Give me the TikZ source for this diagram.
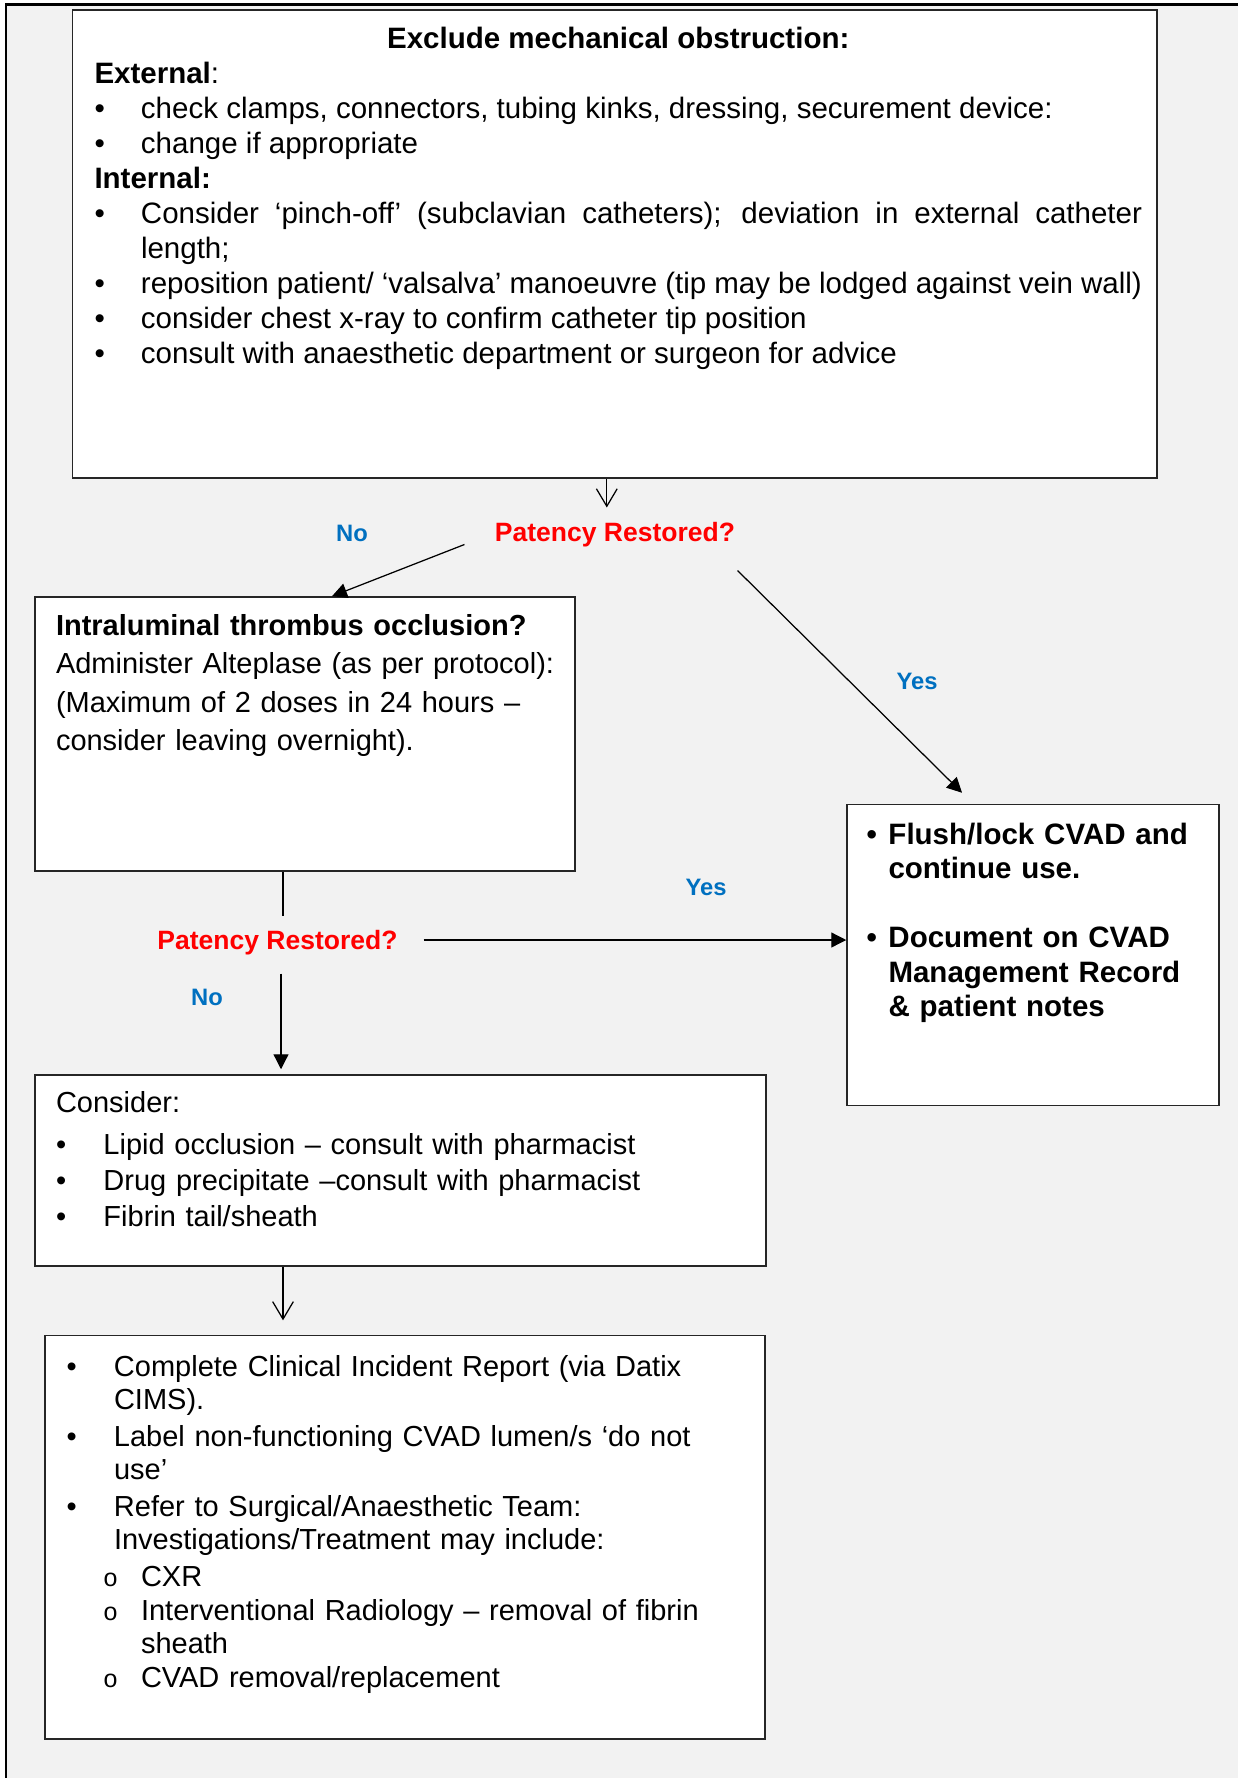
\documentclass[tikz,border=0pt]{standalone}
\usepackage{fontspec}
\setmainfont{Liberation Sans}
\usepackage{xcolor}
\usetikzlibrary{arrows.meta,calc}
\definecolor{fondo}{HTML}{F2F2F2}
\definecolor{rojo}{HTML}{FF0000}
\definecolor{azul}{HTML}{0070C0}
\newcommand{\bitem}[2]{\hangindent=#1\hangafter=1\noindent\makebox[#1][l]{\textbullet}#2\par}
\newcommand{\obitem}[2]{\hangindent=#1\hangafter=1\noindent\makebox[#1][l]{\hspace{14.8pt}{\fontsize{10pt}{10pt}\selectfont o}}#2\par}
\tikzset{
  box/.style={draw=black!85,line width=0.6pt,fill=white,inner sep=0pt},
  txt/.style={anchor=base west,inner sep=0pt,align=left,font=\fontsize{11.8pt}{14pt}\selectfont},
  ask/.style={inner sep=0pt,text height=7.6pt,text depth=0pt,text=rojo,font=\fontsize{10.6pt}{12pt}\selectfont\bfseries},
  ans/.style={inner sep=0pt,text height=6.8pt,text depth=0pt,text=azul,font=\fontsize{9.5pt}{11pt}\selectfont\bfseries},
  arr/.style={-{Triangle[length=6pt,width=6pt]},line width=0.5pt},
  openarr/.style={-{Straight Barb[length=7pt,width=8.3pt]},line width=0.5pt}
}

\begin{document}
\begin{tikzpicture}[x=0.4pt,y=-0.4pt]
\useasboundingbox (0,0) rectangle (1238,1778);
\fill[white] (0,0) rectangle (1238,1778);
\fill[fondo] (6,4.7) rectangle (1238,1778);
\draw[line width=1pt] (6,1778) -- (6,4.7) -- (1238,4.7);
% boxes
\node[box,minimum width=433.8pt,minimum height=187.1pt] (top) at (614.8,243.9) {};
\node[box,minimum width=216pt,minimum height=109.6pt] (intra) at (305,734) {};
\node[box,minimum width=148.8pt,minimum height=120.4pt] (flush) at (1033,955) {};
\node[box,minimum width=292.4pt,minimum height=76.4pt] (consider) at (400.5,1170.5) {};
\node[box,minimum width=288pt,minimum height=161.4pt] (last) at (405,1537.3) {};
% texts
\node[txt,align=justify,text width=419pt] (toptxt) at (94,48.5) {%
  {\centering\bfseries Exclude mechanical obstruction:\par}
  \textbf{External}:\par
  \bitem{18.6pt}{check clamps, connectors, tubing kinks, dressing, securement device:}
  \bitem{18.6pt}{change if appropriate}
  \textbf{Internal:}\par
  \bitem{18.6pt}{Consider ‘pinch-off’ (subclavian catheters); deviation in external catheter\linebreak length;}
  \bitem{18.6pt}{reposition patient/ ‘valsalva’ manoeuvre (tip may be lodged against vein wall)}
  \bitem{18.6pt}{consider chest x-ray to confirm catheter tip position}
  \bitem{18.6pt}{consult with anaesthetic department or surgeon for advice}};
\node[txt,text width=205pt,font=\fontsize{11.6pt}{15.4pt}\selectfont] (intratxt) at (55.5,635) {%
  \textbf{Intraluminal thrombus occlusion?}\\
  Administer Alteplase (as per protocol):\\
  (Maximum of 2 doses in 24 hours –\\
  consider leaving overnight).};
\node[txt,text width=140pt,font=\fontsize{11.8pt}{13.8pt}\selectfont\bfseries] (flushtxt) at (866,844) {%
  \bitem{8.8pt}{Flush/lock CVAD and\newline continue use.}
  \vspace{13.8pt}
  \bitem{8.8pt}{Document on CVAD\newline Management Record\newline \& patient notes}};
\node[txt,text width=280pt,font=\fontsize{11.6pt}{14.4pt}\selectfont] (considertxt) at (55.5,1112) {%
  Consider:\par\vspace{2.4pt}
  \bitem{19pt}{Lipid occlusion – consult with pharmacist}
  \bitem{19pt}{Drug precipitate –consult with pharmacist}
  \bitem{19pt}{Fibrin tail/sheath}};
\node[txt,text width=275pt,font=\fontsize{11.6pt}{13.2pt}\selectfont] (lasttxt) at (66,1376) {%
  \bitem{19pt}{Complete Clinical Incident Report (via Datix\newline CIMS).}\vspace{1.6pt}
  \bitem{19pt}{Label non-functioning CVAD lumen/s ‘do not\newline use’}\vspace{1.6pt}
  \bitem{19pt}{Refer to Surgical/Anaesthetic Team:\newline Investigations/Treatment may include:}\vspace{1.6pt}
  \obitem{29.8pt}{CXR}\vspace{0.4pt}
  \obitem{29.8pt}{Interventional Radiology – removal of fibrin\newline sheath}\vspace{0.4pt}
  \obitem{29.8pt}{CVAD removal/replacement}};
% questions and answers
\node[ask] (pat1) at (615,532) {Patency Restored?};
\node[ask] (pat2) at (277.5,940) {Patency Restored?};
\node[ans] (no1) at (352,533) {No};
\node[ans] (yes1) at (917,681) {Yes};
\node[ans] (yes2) at (706,887) {Yes};
\node[ans] (no2) at (207,997) {No};
% connectors
\draw[openarr,shorten >=5.8pt] ([xshift=-3.2pt]top.south) -- ([xshift=-3.2pt]top.south |- pat1.north);
\draw[arr] ([xshift=-12pt,yshift=-1pt]pat1.south west) -- ([xshift=10.8pt]intra.north);
\draw[arr] ([xshift=0.8pt,yshift=-11.4pt]pat1.south east) -- ([xshift=-28.4pt,yshift=4.4pt]flush.north);
\draw[line width=0.5pt,shorten >=5.8pt] ([xshift=-8.8pt]intra.south) -- ([xshift=-8.8pt]intra.south |- pat2.north);
\draw[arr,shorten <=10.2pt] (pat2.east) -- (pat2.east -| flush.west);
\draw[arr,shorten <=9.4pt,shorten >=2pt] ([xshift=1.4pt]pat2.south) -- ([xshift=1.4pt]pat2.south |- consider.north);
\draw[openarr,shorten >=5.8pt] ([xshift=-47pt]consider.south) -- ([xshift=-47pt]consider.south |- last.north);
\end{tikzpicture}
\end{document}
